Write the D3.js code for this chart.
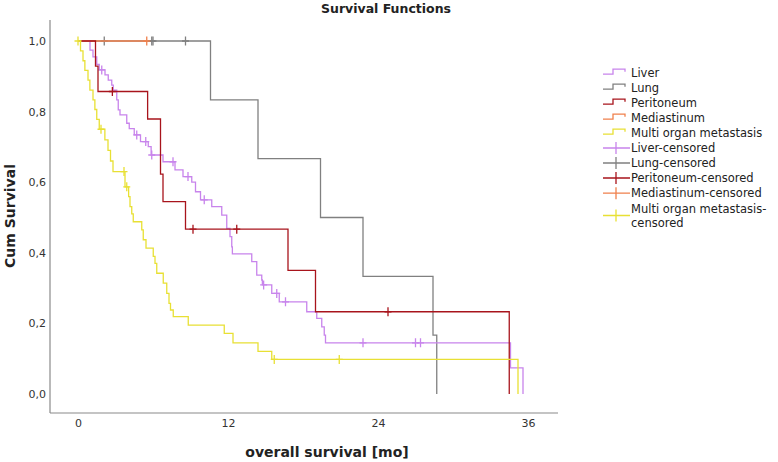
<!DOCTYPE html>
<html><head><meta charset="utf-8">
<script src="https://cdn.jsdelivr.net/npm/d3@7"></script>
<style>body{margin:0;background:#fff}svg{display:block}text{font-family:"DejaVu Sans",sans-serif}</style>
</head><body><svg id="c" width="778" height="462"></svg>
<script>
// ---- data ----
const groups = ["Liver","Lung","Peritoneum","Mediastinum","Multi organ metastasis"];
const groupColors = ["#c884ec","#808080","#a8141c","#f0804c","#e8e034"];
// events: [time (months), survival after the drop]
const liverEvents = [[0.96,0.974],[1.2,0.955],[1.5,0.934],[1.7,0.918],[2.16,0.904],[2.42,0.889],[2.7,0.875],[2.82,0.861],[3.1,0.833],[3.22,0.805],[3.36,0.791],[3.9,0.767],[4.1,0.752],[4.5,0.734],[5.0,0.715],[5.62,0.701],[5.85,0.677],[6.8,0.658],[7.76,0.635],[8.4,0.616],[9.1,0.600],[9.4,0.573],[9.8,0.550],[10.7,0.531],[11.5,0.507],[11.9,0.469],[12.16,0.446],[12.3,0.417],[12.35,0.397],[13.9,0.375],[14.3,0.337],[14.7,0.323],[14.75,0.309],[15.5,0.285],[16.1,0.261],[18.3,0.233],[19.1,0.214],[19.5,0.190],[19.7,0.167],[19.8,0.145],[34.6,0.074],[35.6,0]];
const liverCensored = [1.9,4.7,5.42,5.9,7.6,8.8,10.1,14.85,15.9,16.6,22.8,27.0,27.4];
const lungEvents = [[10.6,0.833],[14.4,0.667],[19.4,0.5],[22.8,0.333],[28.4,0.167],[28.7,0]];
const lungCensored = [2.1,5.9,6.0,8.6];
const peritoneumEvents = [[1.4,0.929],[1.6,0.857],[5.57,0.779],[6.6,0.623],[6.8,0.545],[8.6,0.467],[16.8,0.350],[19.0,0.233],[34.5,0]];
const peritoneumCensored = [2.75,9.2,12.7,24.8];
const mediastinumEvents = [];
const mediastinumCensored = [5.5];
const multiEvents = [[0.2,0.972],[0.4,0.944],[0.55,0.917],[0.8,0.889],[0.95,0.861],[1.2,0.833],[1.35,0.806],[1.5,0.778],[1.7,0.750],[2.15,0.720],[2.4,0.690],[2.6,0.660],[2.8,0.630],[3.76,0.587],[4.05,0.559],[4.16,0.531],[4.3,0.510],[4.42,0.488],[5.1,0.465],[5.22,0.437],[5.44,0.413],[6.02,0.390],[6.16,0.370],[6.3,0.342],[6.82,0.314],[7.1,0.285],[7.28,0.257],[7.4,0.238],[7.62,0.219],[8.82,0.195],[11.7,0.172],[12.4,0.145],[14.4,0.121],[15.5,0.098],[35.2,0]];
const multiCensored = [0,1.84,3.68,3.9,15.7,20.9];
const xTicks = [0,12,24,36];
const yTicks = [0,0.2,0.4,0.6,0.8,1.0];
const legendLabels = ["Liver","Lung","Peritoneum","Mediastinum","Multi organ metastasis","Liver-censored","Lung-censored","Peritoneum-censored","Mediastinum-censored","Multi organ metastasis-|censored"];

const series = [
  {name:groups[0], color:groupColors[0], ev:liverEvents, cens:liverCensored},
  {name:groups[1], color:groupColors[1], ev:lungEvents, cens:lungCensored},
  {name:groups[2], color:groupColors[2], ev:peritoneumEvents, cens:peritoneumCensored},
  {name:groups[3], color:groupColors[3], ev:mediastinumEvents, cens:mediastinumCensored},
  {name:groups[4], color:groupColors[4], ev:multiEvents, cens:multiCensored}
];
const drawOrder = [1,0,3,2,4];

const svg = d3.select("#c");
const x = d3.scaleLinear().domain([0,36]).range([78,528]);
const y = d3.scaleLinear().domain([0,1]).range([394,41]);

// axes lines
svg.append("line").attr("x1",50).attr("x2",50).attr("y1",20).attr("y2",413).attr("stroke","#8a8a8a").attr("stroke-width",1.2);
svg.append("line").attr("x1",50).attr("x2",558).attr("y1",413).attr("y2",413).attr("stroke","#8a8a8a").attr("stroke-width",1.2);

const xAxis = d3.axisBottom(x).tickValues(xTicks).tickSize(0).tickPadding(0).tickFormat(d3.format("d"));
const gx = svg.append("g").attr("transform","translate(0,419)").call(xAxis);
gx.select(".domain").remove();
gx.selectAll("text").attr("font-size",11).attr("fill","#333").attr("font-family","DejaVu Sans");

const yAxis = d3.axisLeft(y).tickValues(yTicks).tickSize(0).tickPadding(0).tickFormat(d=>d3.format(".1f")(d).replace(".",","));
const gy = svg.append("g").attr("transform","translate(46,0)").call(yAxis);
gy.select(".domain").remove();
gy.selectAll("text").attr("font-size",11).attr("fill","#333").attr("font-family","DejaVu Sans");

// titles
svg.append("text").attr("x",386).attr("y",13).attr("text-anchor","middle").attr("font-weight","bold").attr("font-size",12.5).attr("fill","#222").text("Survival Functions");
svg.append("text").attr("x",327).attr("y",457).attr("text-anchor","middle").attr("font-weight","bold").attr("font-size",14).attr("fill","#222").text("overall survival [mo]");
svg.append("text").attr("transform","translate(15,216) rotate(-90)").attr("text-anchor","middle").attr("font-weight","bold").attr("font-size",14).attr("fill","#222").text("Cum Survival");

function survAt(ev,t){let s=1;for(const e of ev){if(e[0]<=t)s=e[1];}return s;}
const line = d3.line().x(d=>x(d[0])).y(d=>y(d[1])).curve(d3.curveStepAfter);

const plot = svg.append("g");
drawOrder.forEach(i=>{
  const sr = series[i];
  const lastEv = sr.ev.length? sr.ev[sr.ev.length-1][0] : 0;
  const lastC = d3.max(sr.cens)||0;
  const pts = [[0,1], ...sr.ev];
  if (lastC > lastEv) pts.push([lastC, survAt(sr.ev,lastC)]);
  plot.append("path").attr("d",line(pts)).attr("fill","none").attr("stroke",sr.color).attr("stroke-width",1.3);
  plot.selectAll(null).data(sr.cens).enter().append("path")
    .attr("d",t=>{const cx=x(t), cy=y(survAt(sr.ev,t));return `M${cx},${cy-4.5}V${cy+4.5}M${cx-3.5},${cy}H${cx+3.5}`;})
    .attr("stroke",sr.color).attr("stroke-width",1.3).attr("fill","none");
});

// legend
const legY = [72.7,87.7,102.7,117.7,132.7,148,163,178,193.2,215.5];
const leg = svg.append("g");
legendLabels.forEach((lab,i)=>{
  const sr = series[i%5];
  const cy = legY[i];
  if (i<5){
    leg.append("path").attr("d",`M603,${cy+1.5}H613V${cy-3.5}H625V${cy-1}`).attr("fill","none").attr("stroke",sr.color).attr("stroke-width",1.3);
  } else {
    leg.append("path").attr("d",`M603,${cy}H630M616,${cy-6}V${cy+6}`).attr("fill","none").attr("stroke",sr.color).attr("stroke-width",1.3);
  }
  const parts = lab.split("|");
  if (parts.length===1){
    leg.append("text").attr("x",631).attr("y",cy+4).attr("font-size",11.5).attr("fill","#222").text(lab);
  } else {
    leg.append("text").attr("x",631).attr("y",cy-7+4).attr("font-size",11.5).attr("fill","#222").text(parts[0]);
    leg.append("text").attr("x",631).attr("y",cy+7+4).attr("font-size",11.5).attr("fill","#222").text(parts[1]);
  }
});
</script></body></html>
